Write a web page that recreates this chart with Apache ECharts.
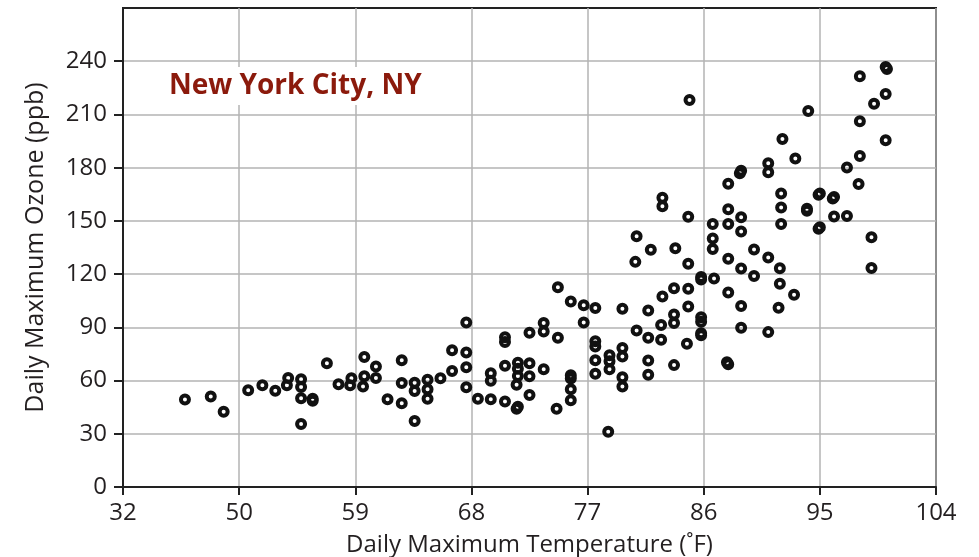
<!DOCTYPE html>
<html>
<head>
<meta charset="utf-8">
<script src="https://cdn.jsdelivr.net/npm/echarts@6/dist/echarts.min.js"></script>
<style>
html,body{margin:0;padding:0;background:#fff;}
#ozone-chart{width:979px;height:557px;}
</style>
</head>
<body>
<div id="ozone-chart"></div>
<script>
// x axis: first tick sits one step (9) below 50 but is labelled 32 in the original
var xTickLabels = ['32', '50', '59', '68', '77', '86', '95', '104'];
var yTickValues = [0, 30, 60, 90, 120, 150, 180, 210, 240];

// daily max temperature (F) and daily max ozone (ppb)
var tempF = [
    45.8, 47.8, 48.8, 50.7, 51.8, 52.8, 53.8, 53.7, 54.8, 54.8, 54.8, 54.8, 55.7, 55.7, 56.8,
    57.7, 58.6, 58.7, 59.7, 59.7, 59.6, 60.6, 60.6, 61.5, 62.6, 62.6, 62.6, 63.6, 63.6, 63.6,
    64.6, 64.6, 64.6, 65.6, 66.5, 66.5, 67.6, 67.6, 67.6, 67.6, 68.5, 69.5, 69.5, 69.5,
    70.6, 70.6, 70.6, 70.6, 71.6, 71.6, 71.6, 71.5, 71.6, 71.5, 72.5, 72.5, 72.5, 72.5,
    73.6, 73.6, 73.6, 74.7, 74.7, 74.6, 75.7, 75.7, 75.7, 75.7, 75.7, 76.7, 76.7,
    77.6, 77.6, 77.6, 77.6, 77.6, 78.7, 78.7, 78.7, 78.6, 79.7, 79.7, 79.7, 79.7, 79.7,
    80.8, 80.7, 80.8, 81.9, 81.7, 81.7, 81.7, 81.7, 82.8, 82.8, 82.8, 82.7, 82.7,
    83.8, 83.7, 83.7, 83.7, 83.7, 84.9, 84.8, 84.8, 84.8, 84.8, 84.7,
    85.8, 85.8, 85.8, 85.8, 85.8, 85.8, 86.7, 86.7, 86.7, 86.8,
    87.9, 87.9, 87.9, 87.9, 87.9, 87.8, 87.9, 88.9, 88.8, 88.9, 88.9, 88.9, 88.9, 88.9,
    89.9, 89.9, 91.0, 91.0, 91.0, 91.0, 92.1, 92.0, 92.0, 92.0, 91.9, 91.9, 91.8,
    93.1, 93.0, 94.1, 94.0, 94.0, 94.9, 95.0, 94.9, 95.0, 96.1, 96.0, 96.1, 97.1, 97.1,
    98.1, 98.1, 98.1, 98.0, 99.2, 99.0, 99.0, 100.1, 100.2, 100.1, 100.1
];
var ozonePpb = [
    49.3, 51.0, 42.4, 54.6, 57.4, 54.3, 61.4, 57.3, 60.8, 56.4, 50.0, 35.5, 49.7, 48.6, 69.8,
    57.9, 57.3, 61.3, 73.3, 62.4, 56.6, 67.9, 61.5, 49.4, 71.5, 58.6, 47.2, 58.8, 54.1, 37.2,
    60.5, 55.1, 49.8, 61.3, 77.1, 65.4, 92.7, 75.8, 67.5, 56.2, 49.8, 64.1, 59.9, 49.4,
    84.4, 81.7, 68.3, 48.2, 70.1, 66.6, 62.6, 57.7, 45.2, 44.1, 86.9, 69.7, 62.4, 51.9,
    92.4, 87.7, 66.4, 112.6, 84.1, 44.1, 104.6, 63.0, 61.2, 55.1, 48.9, 102.5, 92.7,
    100.9, 82.2, 79.2, 71.5, 63.9, 74.3, 70.9, 66.4, 31.1, 100.5, 78.4, 73.5, 61.9, 56.6,
    141.4, 126.9, 88.2, 133.7, 99.5, 84.1, 71.3, 63.3, 163.1, 158.3, 107.4, 91.3, 83.0,
    134.6, 112.0, 97.3, 92.4, 68.7, 218.2, 152.3, 125.9, 111.8, 101.8, 80.7,
    118.4, 116.9, 95.7, 93.1, 86.7, 85.6, 148.2, 140.1, 134.2, 117.5,
    171.0, 156.5, 148.2, 128.6, 109.7, 70.3, 69.2, 178.2, 176.8, 152.0, 144.0, 123.1, 102.0, 89.7,
    133.9, 119.0, 182.5, 177.4, 129.3, 87.3, 196.1, 165.4, 157.6, 148.2, 123.3, 114.6, 101.1,
    185.2, 108.4, 211.9, 155.7, 156.8, 164.7, 165.5, 145.6, 146.4, 163.4, 162.6, 152.5, 152.7, 180.1,
    231.5, 206.2, 186.6, 170.8, 216.0, 140.8, 123.5, 236.8, 235.6, 221.5, 195.5
];

var points = [];
for (var i = 0; i < tempF.length; i++) {
    points.push([tempF[i], ozonePpb[i]]);
}

var textColor = '#231f20';
var fontName = 'Open Sans';

var ozoneChart = echarts.init(document.getElementById('ozone-chart'), null, {renderer: 'canvas'});
var ozoneOption = {
    animation: false,
    backgroundColor: '#fff',
    title: {
        text: 'New York City, NY',
        left: 164,
        top: 67,
        padding: [3, 5],
        backgroundColor: '#fff',
        textStyle: {
            color: '#8b1a0c',
            fontFamily: fontName,
            fontWeight: 'bold',
            fontSize: 28,
            lineHeight: 32
        }
    },
    grid: {
        left: 123,
        right: 43,
        top: 8,
        bottom: 70,
        outerBoundsMode: 'none',   // keep the plot box where it is, labels may sit near the edge
        show: true,
        borderColor: '#222',
        borderWidth: 2
    },
    xAxis: {
        type: 'value',
        min: 41,
        max: 104,
        interval: 9,
        name: 'Daily Maximum Temperature (˚F)',
        nameLocation: 'middle',
        nameGap: 46,
        nameTextStyle: {color: textColor, fontFamily: fontName, fontSize: 24},
        axisLine: {onZero: false, lineStyle: {color: '#222', width: 2}},
        axisTick: {show: true, length: 8, lineStyle: {color: '#222', width: 2}},
        axisLabel: {
            color: textColor,
            fontFamily: fontName,
            fontSize: 24,
            margin: 14,
            formatter: function (v) {
                return xTickLabels[Math.round((v - 41) / 9)];
            }
        },
        splitLine: {show: true, lineStyle: {color: '#b3b3b3', width: 1.5}}
    },
    yAxis: {
        type: 'value',
        min: 0,
        max: 270,
        interval: 30,
        name: 'Daily Maximum Ozone (ppb)',
        nameLocation: 'middle',
        nameGap: 75,
        nameTextStyle: {color: textColor, fontFamily: fontName, fontSize: 25},
        axisLine: {lineStyle: {color: '#222', width: 2}},
        axisTick: {show: true, length: 9, customValues: yTickValues, lineStyle: {color: '#222', width: 2}},
        axisLabel: {
            color: textColor,
            fontFamily: fontName,
            fontSize: 24,
            margin: 16,
            customValues: yTickValues
        },
        splitLine: {show: true, lineStyle: {color: '#b3b3b3', width: 1.5}}
    },
    series: [
        {
            name: 'ozone',
            type: 'scatter',
            symbol: 'circle',
            symbolSize: 8,
            itemStyle: {
                color: 'rgba(255,255,255,0)',
                borderColor: '#111',
                borderWidth: 4,
                opacity: 1
            },
            data: points
        }
    ]
};
ozoneChart.setOption(ozoneOption);
</script>
</body>
</html>
